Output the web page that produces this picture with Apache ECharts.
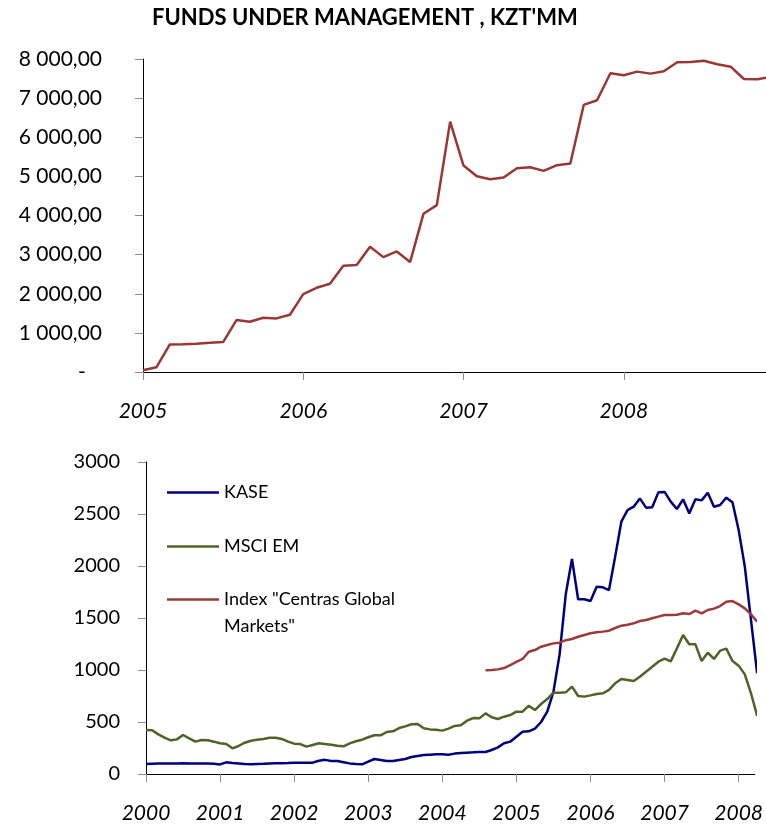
<!DOCTYPE html>
<html><head><meta charset="utf-8">
<script src="https://cdn.jsdelivr.net/npm/echarts@6/dist/echarts.min.js"></script>
<style>html,body{margin:0;padding:0;background:#fff}#c{width:766px;height:824px}</style>
</head><body><div id="c"></div>
<script>
const titleText = "FUNDS UNDER MANAGEMENT , KZT'MM";
// Top chart: monthly, starting Jan 2005
const fundsYearLabels = ['2005', '2006', '2007', '2008'];
const fundsValues = [43, 120, 700, 710, 725, 745, 766, 1328, 1285, 1387, 1370, 1464,
  1991, 2153, 2255, 2715, 2732, 3200, 2936, 3081, 2809, 4043, 4264, 6400,
  5277, 5004, 4928, 4970, 5209, 5234, 5140, 5285, 5328, 6826, 6945, 7634,
  7583, 7677, 7626, 7685, 7915, 7923, 7957, 7864, 7804, 7489, 7481, 7540];
const fundsYTicks = [0, 1000, 2000, 3000, 4000, 5000, 6000, 7000, 8000];

// Bottom chart: monthly, starting Jan 2000
const indexYearLabels = ['2000', '2001', '2002', '2003', '2004', '2005', '2006', '2007', '2008'];
const seriesNames = ['KASE', 'MSCI EM', 'Index "Centras Global Markets"'];
const kaseValues = [96, 98, 100, 101, 102, 102, 103, 102, 100, 100, 100, 98,
  92, 112, 105, 100, 95, 93, 97, 99, 102, 103, 104, 105,
  107, 108, 108, 109, 128, 136, 125, 124, 113, 102, 96, 93,
  119, 144, 135, 125, 125, 135, 144, 163, 173, 183, 186, 189,
  189, 186, 196, 202, 205, 208, 212, 212, 231, 256, 295, 311,
  359, 407, 410, 436, 500, 600, 790, 1150, 1730, 2067, 1680, 1680,
  1663, 1801, 1795, 1769, 2090, 2426, 2538, 2570, 2650, 2561, 2564, 2708,
  2712, 2619, 2548, 2641, 2506, 2641, 2631, 2705, 2570, 2587, 2657, 2612,
  2346, 1994, 1481, 968];
const msciValues = [423, 420, 381, 349, 324, 333, 375, 343, 311, 327, 324, 311,
  295, 288, 247, 269, 301, 320, 330, 337, 349, 349, 337, 311,
  292, 288, 263, 279, 295, 288, 282, 272, 266, 295, 315, 330,
  353, 372, 372, 404, 410, 442, 458, 478, 481, 439, 429, 426,
  417, 436, 462, 468, 513, 538, 535, 583, 545, 529, 551, 567,
  599, 599, 657, 615, 673, 721, 782, 782, 785, 840, 750, 744,
  756, 769, 776, 808, 872, 913, 904, 894, 936, 984, 1032, 1080,
  1109, 1083, 1208, 1337, 1247, 1247, 1087, 1167, 1106, 1186, 1205, 1087,
  1042, 958, 776, 558];
const centrasStartMonth = 55;
const centrasValues = [997, 1000, 1006, 1019, 1048,
  1077, 1106, 1176, 1192, 1224, 1240, 1256, 1263, 1287, 1298, 1320, 1337,
  1353, 1362, 1369, 1378, 1404, 1426, 1436, 1449, 1471, 1481, 1497, 1513,
  1529, 1529, 1532, 1545, 1538, 1571, 1545, 1577, 1590, 1615, 1657, 1663,
  1631, 1593, 1535, 1465];
const indexYTicks = [0, 500, 1000, 1500, 2000, 2500, 3000];

const colors = { funds: '#993735', kase: '#00007f', msci: '#4f6228', centras: '#9b3b39' };
const FONT = 'Lato';

function fmtFunds(v) {
  if (v === 0) return '-   ';
  const s = String(Math.round(v));
  return s.replace(/\B(?=(\d{3})+(?!\d))/g, ' ') + ',00';
}
const toPairs = (arr, start) => arr.map((v, i) => [start + i, v]);

const axisLineStyle = { show: true, lineStyle: { color: '#000', width: 1 } };
const tickStyle = { show: true, inside: false, length: 8, lineStyle: { color: '#8c8c8c', width: 1 } };

const chart = echarts.init(document.getElementById('c'), null, { renderer: 'canvas' });
const fundsYearVals = fundsYearLabels.map((_, i) => i * 12);
const indexYearVals = indexYearLabels.map((_, i) => i * 12);
const legendText = { fontFamily: FONT, fontSize: 18, color: '#000', lineHeight: 27 };

chart.setOption({
  animation: false,
  backgroundColor: '#fff',
  title: {
    text: titleText, left: 152, top: 7, padding: 0,
    textStyle: { fontFamily: FONT, fontWeight: 'bold', fontSize: 22, color: '#000' }
  },
  legend: [
    { data: [seriesNames[0]], left: 167, top: 479, padding: 0, icon: 'rect', itemWidth: 52, itemHeight: 2.5,
      textStyle: legendText },
    { data: [seriesNames[1]], left: 167, top: 533, padding: 0, icon: 'rect', itemWidth: 52, itemHeight: 2.5,
      textStyle: legendText },
    { data: [seriesNames[2]], left: 167, top: 559, padding: 0, icon: 'rect', itemWidth: 52, itemHeight: 2.5,
      formatter: () => '\nIndex "Centras Global\nMarkets"',
      textStyle: legendText }
  ],
  grid: [
    { left: 143, top: 59, right: 0, height: 313 },
    { left: 146, top: 462, right: 0, height: 312 }
  ],
  xAxis: [
    { type: 'value', gridIndex: 0, min: 0, max: 46.65, interval: 12,
      axisLine: axisLineStyle, axisTick: Object.assign({ customValues: fundsYearVals }, tickStyle),
      splitLine: { show: false },
      axisLabel: { customValues: fundsYearVals, margin: 29, fontFamily: FONT, fontSize: 21, fontStyle: 'italic', color: '#000',
        formatter: v => (v % 12 === 0 && fundsYearLabels[v / 12]) ? fundsYearLabels[v / 12] : '' } },
    { type: 'value', gridIndex: 1, min: 0, max: 98.6, interval: 12,
      axisLine: axisLineStyle, axisTick: Object.assign({ customValues: indexYearVals }, tickStyle),
      splitLine: { show: false },
      axisLabel: { customValues: indexYearVals, margin: 29, fontFamily: FONT, fontSize: 21, fontStyle: 'italic', color: '#000',
        formatter: v => (v % 12 === 0 && indexYearLabels[v / 12]) ? indexYearLabels[v / 12] : '' } }
  ],
  yAxis: [
    { type: 'value', gridIndex: 0, min: fundsYTicks[0], max: fundsYTicks[fundsYTicks.length - 1], interval: 1000,
      axisLine: axisLineStyle, axisTick: tickStyle, splitLine: { show: false },
      axisLabel: { margin: 41, fontFamily: FONT, fontSize: 21, color: '#000', formatter: fmtFunds } },
    { type: 'value', gridIndex: 1, min: indexYTicks[0], max: indexYTicks[indexYTicks.length - 1], interval: 500,
      axisLine: axisLineStyle, axisTick: tickStyle, splitLine: { show: false },
      axisLabel: { margin: 26, fontFamily: FONT, fontSize: 20, color: '#000', formatter: v => String(v) } }
  ],
  series: [
    { name: 'Funds', type: 'line', xAxisIndex: 0, yAxisIndex: 0, data: toPairs(fundsValues, 0),
      symbol: 'none', clip: true, lineStyle: { color: colors.funds, width: 2.5 }, itemStyle: { color: colors.funds } },
    { name: seriesNames[0], type: 'line', xAxisIndex: 1, yAxisIndex: 1, data: toPairs(kaseValues, 0),
      symbol: 'none', clip: true, lineStyle: { color: colors.kase, width: 2.5 }, itemStyle: { color: colors.kase } },
    { name: seriesNames[1], type: 'line', xAxisIndex: 1, yAxisIndex: 1, data: toPairs(msciValues, 0),
      symbol: 'none', clip: true, lineStyle: { color: colors.msci, width: 2.5 }, itemStyle: { color: colors.msci } },
    { name: seriesNames[2], type: 'line', xAxisIndex: 1, yAxisIndex: 1, data: toPairs(centrasValues, centrasStartMonth),
      symbol: 'none', clip: true, lineStyle: { color: colors.centras, width: 2.5 }, itemStyle: { color: colors.centras } }
  ]
});
</script>
</body></html>
